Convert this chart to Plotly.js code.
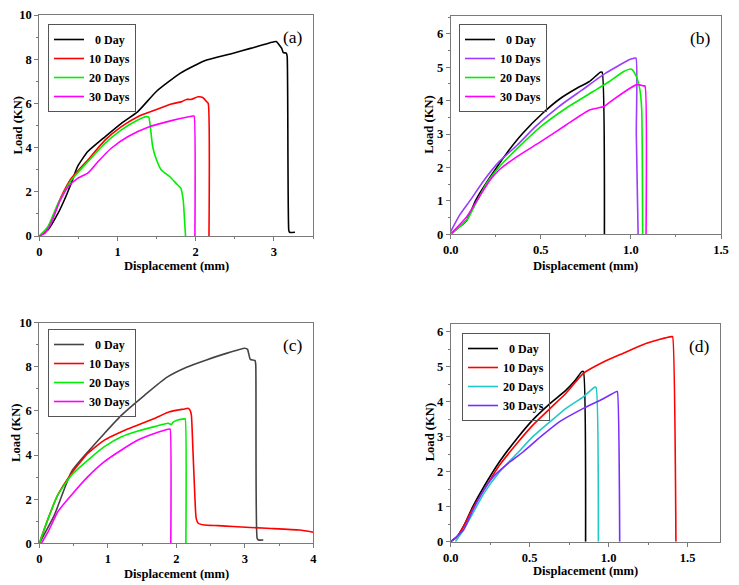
<!DOCTYPE html>
<html>
<head>
<meta charset="utf-8">
<script src="https://cdn.plot.ly/plotly-3.0.1.min.js"></script>
<style>html,body{margin:0;padding:0;background:#fff;}#chart{width:739px;height:585px;}</style>
</head>
<body>
<div id="chart"></div>
<script>
// ---------- Data ----------
const seriesNames = ['\u00a0\u00a00 Day', '10 Days', '20 Days', '30 Days'];
const panelLabels = ['(a)', '(b)', '(c)', '(d)'];
const xTitle = 'Displacement (mm)';
const yTitle = 'Load (KN)';

// Panel (a)
const aX0 = [0, 0.11, 0.24, 0.32, 0.41, 0.49, 0.62, 0.84, 1.05, 1.26, 1.5, 1.8, 2.0, 2.14, 2.48, 2.70, 3.0, 3.03, 3.10, 3.12, 3.16, 3.17, 3.19, 3.2, 3.27];
const aY0 = [0, 0.27, 1.03, 1.63, 2.40, 3.15, 3.82, 4.49, 5.1, 5.63, 6.55, 7.36, 7.74, 7.96, 8.27, 8.49, 8.79, 8.80, 8.49, 8.30, 8.27, 8.11, 0.27, 0.17, 0.17];
const aX1 = [0, 0.07, 0.15, 0.28, 0.41, 0.62, 0.84, 1.05, 1.26, 1.48, 1.69, 1.82, 1.88, 1.94, 2.03, 2.09, 2.14, 2.16, 2.17];
const aY1 = [0, 0.15, 0.65, 1.78, 2.61, 3.44, 4.34, 4.95, 5.40, 5.70, 5.97, 6.08, 6.18, 6.18, 6.30, 6.27, 6.08, 6.0, 0];
const aX2 = [0, 0.11, 0.24, 0.41, 0.62, 0.84, 1.05, 1.26, 1.37, 1.40, 1.42, 1.45, 1.50, 1.56, 1.67, 1.75, 1.81, 1.84, 1.86, 1.87];
const aY2 = [0, 0.42, 1.48, 2.53, 3.36, 4.19, 4.8, 5.25, 5.4, 5.37, 4.95, 4.04, 3.44, 2.99, 2.68, 2.38, 2.16, 1.63, 0.57, 0];
const aX3 = [0, 0.07, 0.15, 0.26, 0.37, 0.49, 0.62, 0.75, 0.92, 1.13, 1.39, 1.69, 1.97, 1.98, 1.99];
const aY3 = [0, 0.12, 0.57, 1.55, 2.23, 2.61, 2.84, 3.36, 3.97, 4.49, 4.92, 5.22, 5.43, 5.43, 0];

// Panel (b)
const bX0 = [0.005, 0.05, 0.09, 0.14, 0.22, 0.31, 0.40, 0.51, 0.61, 0.70, 0.77, 0.83, 0.84, 0.853];
const bY0 = [0.03, 0.23, 0.43, 1.03, 1.72, 2.42, 3.02, 3.62, 4.07, 4.37, 4.57, 4.85, 4.85, 0];
const bX1 = [0, 0.05, 0.11, 0.18, 0.27, 0.37, 0.47, 0.60, 0.73, 0.86, 0.99, 1.013, 1.028, 1.03, 1.04];
const bY1 = [0.08, 0.58, 1.03, 1.58, 2.18, 2.67, 3.22, 3.82, 4.32, 4.82, 5.22, 5.26, 5.27, 3.0, 0];
const bX2 = [0.005, 0.09, 0.14, 0.20, 0.27, 0.37, 0.50, 0.64, 0.79, 0.88, 0.96, 1.004, 1.03, 1.05, 1.06, 1.065];
const bY2 = [0.03, 0.43, 0.93, 1.53, 2.02, 2.57, 3.22, 3.77, 4.27, 4.57, 4.87, 4.94, 4.72, 4.32, 3.72, 0];
const bX3 = [0.005, 0.09, 0.16, 0.22, 0.27, 0.37, 0.50, 0.64, 0.77, 0.85, 0.90, 0.995, 1.03, 1.05, 1.07, 1.078, 1.084];
const bY3 = [0.03, 0.53, 1.13, 1.63, 1.93, 2.33, 2.77, 3.27, 3.72, 3.82, 4.02, 4.37, 4.47, 4.47, 4.44, 4.44, 0];

// Panel (c)
const cX0 = [0, 0.22, 0.47, 0.71, 0.95, 1.20, 1.54, 1.86, 2.15, 2.44, 2.73, 3.0, 3.04, 3.08, 3.15, 3.16, 3.18, 3.2, 3.27];
const cY0 = [0, 1.28, 3.25, 4.15, 4.98, 5.81, 6.72, 7.52, 7.98, 8.31, 8.61, 8.84, 8.79, 8.34, 8.28, 8.08, 0.23, 0.15, 0.15];
const cX1 = [0, 0.13, 0.27, 0.47, 0.71, 0.95, 1.20, 1.44, 1.68, 1.90, 2.02, 2.12, 2.17, 2.20, 2.22, 2.24, 2.27, 2.29, 2.32, 2.41, 2.61, 2.83, 3.32, 3.8, 4.0];
const cY1 = [0, 1.13, 2.19, 3.17, 4.08, 4.68, 5.06, 5.36, 5.66, 5.96, 6.04, 6.09, 6.12, 6.04, 5.81, 4.45, 2.19, 1.13, 0.91, 0.83, 0.80, 0.76, 0.68, 0.60, 0.5];
const cX2 = [0, 0.13, 0.27, 0.47, 0.71, 0.95, 1.20, 1.44, 1.68, 1.88, 1.93, 1.95, 2.02, 2.12, 2.13, 2.14];
const cY2 = [0, 1.13, 2.19, 3.09, 3.77, 4.38, 4.83, 5.09, 5.29, 5.44, 5.39, 5.48, 5.59, 5.64, 5.64, 0];
const cX3 = [0.03, 0.13, 0.27, 0.47, 0.71, 0.95, 1.20, 1.44, 1.68, 1.90, 1.91, 1.92];
const cY3 = [0, 0.53, 1.43, 2.19, 3.02, 3.70, 4.23, 4.68, 4.98, 5.18, 5.18, 0];

// Panel (d)
const dX0 = [0, 0.04, 0.08, 0.14, 0.21, 0.31, 0.42, 0.52, 0.63, 0.73, 0.79, 0.83, 0.84, 0.854];
const dY0 = [0, 0.14, 0.43, 1.0, 1.57, 2.29, 2.95, 3.48, 3.95, 4.33, 4.62, 4.86, 4.86, 0];
const dX1 = [0, 0.04, 0.08, 0.14, 0.21, 0.31, 0.42, 0.52, 0.63, 0.73, 0.84, 0.97, 1.09, 1.24, 1.32, 1.40, 1.405, 1.426];
const dY1 = [0, 0.14, 0.43, 0.95, 1.48, 2.19, 2.81, 3.33, 3.81, 4.24, 4.81, 5.14, 5.38, 5.67, 5.78, 5.86, 5.86, 0];
const dX2 = [0.03, 0.08, 0.14, 0.21, 0.31, 0.42, 0.52, 0.63, 0.73, 0.84, 0.91, 0.92, 0.935];
const dY2 = [0, 0.33, 0.81, 1.38, 2.0, 2.52, 3.0, 3.43, 3.81, 4.14, 4.41, 4.41, 0];
const dX3 = [0, 0.08, 0.14, 0.21, 0.27, 0.35, 0.46, 0.57, 0.69, 0.84, 0.95, 1.05, 1.055, 1.07];
const dY3 = [0, 0.33, 0.90, 1.48, 1.86, 2.19, 2.57, 3.0, 3.43, 3.81, 4.05, 4.29, 4.29, 0];

// ---------- Styling ----------
const FONT = 'Liberation Serif';
const W = 739, H = 585;
const panelColors = [
  ['#000000', '#ff0000', '#00ee00', '#ff00ff'],
  ['#000000', '#9b3cff', '#00ee00', '#ff00ff'],
  ['#444444', '#ff0000', '#00ee00', '#ff00ff'],
  ['#000000', '#ff0000', '#22c8c8', '#7b2dff']
];
const panelData = [
  [[aX0, aY0], [aX1, aY1], [aX2, aY2], [aX3, aY3]],
  [[bX0, bY0], [bX1, bY1], [bX2, bY2], [bX3, bY3]],
  [[cX0, cY0], [cX1, cY1], [cX2, cY2], [cX3, cY3]],
  [[dX0, dY0], [dX1, dY1], [dX2, dY2], [dX3, dY3]]
];
// pixel boxes [left, right, top, bottom]
const boxes = [
  [39.3, 313, 15, 236],
  [450.7, 721, 16, 234.3],
  [39.3, 313.3, 322.7, 543.3],
  [450.7, 720, 324, 541.7]
];
const xRanges = [[0, 3.5], [0, 1.5], [0, 4], [0, 1.705]];
const yRanges = [[0, 10], [0, 6.53], [0, 10], [0, 6.22]];
const xDt = [1, 0.5, 1, 0.5];
const yDt = [2, 1, 2, 1];
const xFmt = ['', '.1f', '', '.1f'];
const legendPos = [[48, 24], [459, 24], [48, 329], [462, 333]];
// axis-title centres in pixels: [x-title y, y-title x]
const titlePos = [[266, 17], [266.5, 429.5], [574, 16], [571, 429.5]];

const traces = [];
const layout = {
  width: W, height: H,
  margin: {l: 0, r: 0, t: 0, b: 0},
  paper_bgcolor: '#fff', plot_bgcolor: '#fff',
  font: {family: FONT, color: '#000'},
  annotations: []
};

for (let p = 0; p < 4; p++) {
  const sfx = p === 0 ? '' : String(p + 1);
  const legName = 'legend' + sfx;
  for (let s = 0; s < 4; s++) {
    traces.push({
      type: 'scatter', mode: 'lines',
      x: panelData[p][s][0], y: panelData[p][s][1],
      name: seriesNames[s],
      xaxis: 'x' + sfx, yaxis: 'y' + sfx,
      legend: legName,
      line: {color: panelColors[p][s], width: 1.6, shape: 'spline', smoothing: 0.5}
    });
  }
  const b = boxes[p];
  const common = {
    showgrid: false, zeroline: false,
    showline: true, mirror: true, linecolor: '#7a7a7a', linewidth: 1,
    ticks: 'outside', ticklen: 4, tickwidth: 1, tickcolor: '#7a7a7a',
    tickfont: {family: FONT, size: 12.5, color: '#000', weight: 'bold'}
  };
  layout['xaxis' + sfx] = Object.assign({}, common, {
    domain: [b[0] / W, b[1] / W],
    range: xRanges[p], dtick: xDt[p], tick0: 0, tickformat: xFmt[p],
    anchor: 'y' + sfx,
    minor: {ticks: 'outside', ticklen: 2, tickcolor: '#7a7a7a', dtick: xDt[p] / 2}
  });
  layout['yaxis' + sfx] = Object.assign({}, common, {
    domain: [1 - b[3] / H, 1 - b[2] / H],
    range: yRanges[p], dtick: yDt[p], tick0: 0,
    anchor: 'x' + sfx,
    minor: {ticks: 'outside', ticklen: 2, tickcolor: '#7a7a7a', dtick: yDt[p] / 2}
  });
  layout[legName] = {
    x: legendPos[p][0] / W, y: 1 - legendPos[p][1] / H,
    xanchor: 'left', yanchor: 'top',
    bgcolor: 'rgba(255,255,255,0)', bordercolor: '#555', borderwidth: 1,
    font: {family: FONT, size: 12, weight: 'bold', color: '#000'},
    tracegroupgap: 0, itemwidth: 30
  };
  layout.annotations.push({
    xref: 'x' + sfx + ' domain', yref: 'y' + sfx + ' domain',
    x: 0.97, y: 0.955, xanchor: 'right', yanchor: 'top',
    text: panelLabels[p], showarrow: false,
    font: {family: FONT, size: 17.5, color: '#000'}
  });
  // axis titles
  layout.annotations.push({
    xref: 'paper', yref: 'paper',
    x: (b[0] + b[1]) / 2 / W, y: 1 - titlePos[p][0] / H,
    xanchor: 'center', yanchor: 'middle',
    text: xTitle, showarrow: false,
    font: {family: FONT, size: 12.6, weight: 'bold', color: '#000'}
  });
  layout.annotations.push({
    xref: 'paper', yref: 'paper',
    x: titlePos[p][1] / W, y: 1 - (b[2] + b[3]) / 2 / H,
    xanchor: 'center', yanchor: 'middle', textangle: -90,
    text: yTitle, showarrow: false,
    font: {family: FONT, size: 12.6, weight: 'bold', color: '#000'}
  });
}

Plotly.newPlot('chart', traces, layout, {displayModeBar: false, staticPlot: true});
</script>
</body>
</html>
